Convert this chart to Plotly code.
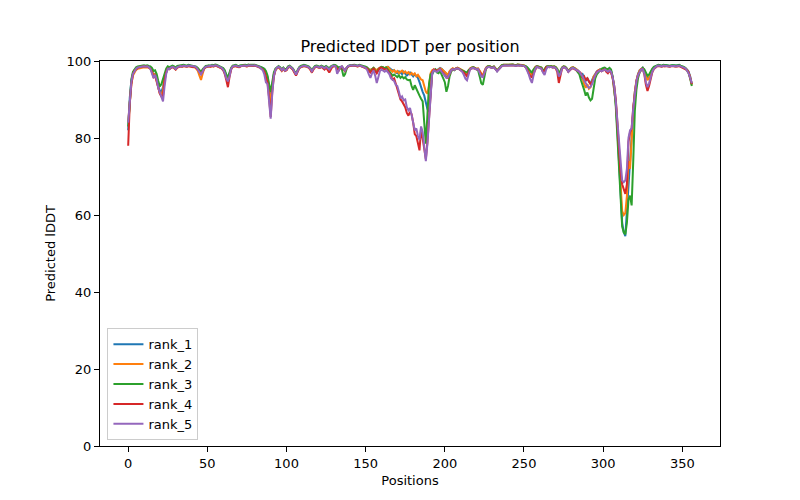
import plotly.graph_objects as go

positions = list(range(357))

rank_1 = [
82.0, 90.5, 94.8, 96.8, 97.6, 98.0, 98.3, 98.4, 98.5, 98.5,
98.6, 98.5, 98.6, 98.4, 98.2, 97.6, 96.0, 96.8, 95.5, 93.5,
92.3, 92.0, 93.2, 96.0, 97.4, 98.2, 98.0, 98.3, 98.5, 98.3,
97.9, 98.4, 98.6, 98.7, 98.6, 98.8, 98.7, 98.6, 98.8, 98.7,
98.6, 98.5, 98.6, 98.3, 97.9, 97.4, 96.6, 97.3, 98.2, 98.5,
98.6, 98.7, 98.6, 98.8, 98.7, 98.9, 98.8, 98.6, 98.5, 98.3,
98.0, 97.3, 96.0, 95.2, 96.6, 98.0, 98.6, 98.7, 98.8, 98.6,
98.5, 98.7, 98.8, 98.9, 98.8, 98.7, 98.9, 98.8, 98.7, 98.8,
98.9, 98.8, 98.6, 98.5, 98.3, 98.2, 97.9, 97.0, 95.8, 93.0,
89.5, 93.5, 96.5, 97.8, 98.3, 98.5, 98.2, 97.6, 98.1, 97.6,
97.8, 98.4, 98.6, 98.3, 97.9, 97.2, 96.4, 97.4, 98.2, 98.5,
98.7, 98.8, 98.7, 98.6, 98.4, 98.0, 97.4, 98.0, 98.5, 98.6,
98.5, 98.3, 98.6, 98.4, 98.2, 98.5, 98.3, 97.9, 98.4, 98.7,
98.8, 98.7, 98.4, 98.0, 98.5, 98.6, 98.0, 97.6, 98.3, 98.7,
98.8, 98.9, 98.8, 98.9, 98.8, 98.7, 98.9, 98.8, 98.6, 98.5,
98.4, 98.2, 97.8, 97.6, 97.9, 98.2, 97.8, 97.4, 97.9, 98.3,
98.4, 98.3, 98.0, 98.4, 98.5, 98.2, 97.8, 97.5, 97.6, 97.0,
96.8, 97.3, 97.0, 96.6, 97.2, 96.8, 96.2, 96.6, 97.0, 96.5,
96.0, 96.6, 96.2, 95.6, 94.5, 93.0, 92.0, 91.0, 89.0, 87.5,
86.8, 92.5, 96.5, 97.4, 97.8, 97.6, 97.9, 98.2, 98.0, 97.6,
97.2, 96.6, 96.2, 97.2, 97.8, 98.0, 97.8, 98.1, 98.2, 98.0,
97.8, 97.6, 97.2, 96.8, 96.4, 97.4, 98.0, 98.2, 98.3, 98.1,
97.9, 98.0, 97.4, 96.4, 95.8, 97.2, 98.2, 98.5, 98.6, 98.4,
98.3, 98.5, 98.0, 97.4, 97.9, 98.5, 98.8, 98.9, 99.0, 98.9,
98.9, 99.0, 98.9, 99.0, 98.9, 98.8, 99.0, 98.9, 99.0, 98.9,
98.8, 98.6, 98.3, 97.8, 96.8, 96.4, 97.4, 98.3, 98.6, 98.5,
98.3, 98.2, 97.3, 97.6, 98.4, 98.6, 98.5, 98.6, 98.4, 98.5,
98.3, 97.8, 96.4, 97.0, 98.2, 98.5, 98.4, 98.0, 97.3, 97.8,
98.2, 98.3, 98.1, 97.8, 97.6, 97.0, 96.2, 96.6, 95.4, 94.8,
95.6, 94.6, 94.2, 95.2, 96.0, 96.6, 97.3, 97.6, 97.8, 97.6,
97.9, 98.1, 97.8, 97.6, 97.9, 97.4, 95.8, 93.0, 89.0, 82.0,
73.0, 64.0, 58.0, 55.5, 54.5, 61.0, 68.0, 74.0, 80.0, 87.0,
92.0, 95.0, 96.6, 97.6, 98.0, 98.3, 97.6, 96.4, 95.2, 95.8,
97.0, 97.8, 98.3, 98.6, 98.8, 98.9, 98.8, 98.7, 98.9, 98.8,
98.9, 98.8, 98.7, 98.8, 98.9, 98.8, 98.7, 98.8, 98.9, 98.7,
98.6, 98.4, 98.2, 97.8, 97.2, 96.0, 94.0,
]

rank_2 = [
84.0, 90.0, 94.0, 96.2, 97.2, 97.7, 98.0, 98.1, 98.2, 98.3,
98.4, 98.3, 98.4, 98.2, 98.0, 97.4, 96.4, 96.6, 95.0, 93.0,
91.5, 91.0, 92.5, 95.6, 97.2, 98.0, 97.9, 98.2, 98.4, 98.2,
97.8, 98.3, 98.5, 98.6, 98.5, 98.7, 98.6, 98.5, 98.7, 98.6,
98.5, 98.4, 98.4, 98.0, 97.4, 96.2, 95.1, 96.6, 98.0, 98.4,
98.5, 98.6, 98.5, 98.7, 98.6, 98.8, 98.7, 98.5, 98.4, 98.2,
97.9, 97.0, 95.8, 95.0, 96.4, 97.9, 98.5, 98.6, 98.7, 98.5,
98.4, 98.6, 98.7, 98.8, 98.7, 98.6, 98.8, 98.7, 98.6, 98.7,
98.8, 98.7, 98.5, 98.4, 98.2, 98.0, 97.6, 96.6, 95.2, 92.5,
89.0, 93.0, 96.2, 97.6, 98.2, 98.4, 98.0, 97.4, 98.0, 97.5,
97.6, 98.3, 98.5, 98.2, 97.8, 97.0, 96.6, 97.3, 98.1, 98.4,
98.6, 98.7, 98.6, 98.5, 98.3, 97.8, 97.2, 97.9, 98.4, 98.5,
98.4, 98.2, 98.5, 98.3, 98.1, 98.4, 98.2, 97.8, 98.3, 98.6,
98.7, 98.6, 98.2, 97.8, 98.4, 98.5, 97.9, 97.5, 98.2, 98.6,
98.7, 98.8, 98.7, 98.8, 98.7, 98.6, 98.8, 98.7, 98.5, 98.4,
98.3, 98.1, 97.8, 97.7, 97.9, 98.2, 97.9, 97.6, 98.0, 98.3,
98.4, 98.3, 98.1, 98.4, 98.5, 98.0, 97.6, 97.2, 97.6, 97.0,
97.4, 96.8, 97.2, 97.5, 96.9, 97.3, 96.8, 97.1, 96.5, 96.9,
96.4, 96.8, 96.0, 96.4, 95.8, 95.2, 95.0, 93.5, 92.0, 91.5,
93.5, 96.8, 97.6, 97.8, 97.6, 97.4, 97.8, 98.1, 97.9, 97.5,
97.0, 96.8, 96.4, 97.4, 97.9, 98.1, 97.9, 98.2, 98.3, 98.1,
97.9, 97.7, 97.4, 97.0, 96.8, 97.5, 98.1, 98.3, 98.4, 98.2,
98.0, 98.1, 97.5, 96.6, 96.2, 97.4, 98.3, 98.6, 98.7, 98.5,
98.4, 98.6, 98.1, 97.6, 98.0, 98.6, 98.9, 99.0, 99.1, 99.0,
99.0, 99.1, 99.0, 99.1, 99.0, 98.9, 99.1, 99.0, 99.1, 99.0,
98.9, 98.5, 98.0, 97.2, 96.5, 96.8, 97.6, 98.4, 98.7, 98.6,
98.4, 98.3, 97.5, 97.8, 98.5, 98.7, 98.6, 98.7, 98.5, 98.6,
98.4, 97.9, 96.8, 97.2, 98.3, 98.6, 98.5, 98.1, 97.5, 97.9,
98.3, 98.4, 98.2, 97.9, 97.5, 96.8, 96.0, 95.5, 94.0, 93.0,
94.0, 92.8, 93.2, 94.5, 96.0, 96.5, 97.2, 97.6, 97.8, 97.6,
97.9, 98.0, 97.7, 97.5, 97.8, 97.2, 95.6, 92.8, 89.0, 83.0,
75.0, 67.0, 61.0, 60.0, 60.5, 65.0, 74.0, 72.0, 80.0, 87.0,
92.0, 95.0, 96.5, 97.5, 97.9, 98.2, 97.5, 96.2, 95.0, 95.6,
96.8, 97.7, 98.2, 98.5, 98.7, 98.8, 98.7, 98.6, 98.8, 98.7,
98.8, 98.7, 98.6, 98.7, 98.8, 98.7, 98.6, 98.7, 98.8, 98.6,
98.5, 98.3, 98.1, 97.7, 97.0, 95.8, 93.8,
]

rank_3 = [
83.0, 91.0, 95.2, 97.2, 98.0, 98.4, 98.6, 98.7, 98.8, 98.8,
98.9, 98.8, 98.9, 98.7, 98.6, 98.2, 97.4, 97.6, 96.6, 94.8,
93.4, 94.0, 95.2, 97.0, 98.0, 98.6, 98.4, 98.6, 98.8, 98.6,
98.3, 98.7, 98.8, 98.9, 98.8, 99.0, 98.9, 98.8, 99.0, 98.9,
98.8, 98.7, 98.8, 98.5, 98.2, 97.8, 97.2, 97.8, 98.4, 98.7,
98.8, 98.9, 98.8, 99.0, 98.9, 99.1, 99.0, 98.8, 98.7, 98.5,
98.2, 97.6, 96.4, 95.8, 97.0, 98.2, 98.8, 98.9, 99.0, 98.8,
98.7, 98.9, 99.0, 99.1, 99.0, 98.9, 99.1, 99.0, 98.9, 99.0,
99.0, 98.9, 98.8, 98.6, 98.4, 98.3, 98.0, 97.4, 96.2, 94.0,
92.0, 94.5, 97.0, 98.0, 98.5, 98.7, 98.4, 97.8, 98.3, 97.8,
98.0, 98.6, 98.8, 98.5, 98.1, 97.4, 96.8, 97.6, 98.4, 98.7,
98.9, 99.0, 98.9, 98.8, 98.6, 98.2, 97.6, 98.2, 98.7, 98.8,
98.7, 98.5, 98.8, 98.6, 98.4, 98.7, 98.5, 98.1, 98.6, 98.9,
99.0, 98.9, 98.6, 98.3, 98.4, 97.8, 96.0, 96.6, 98.0, 98.7,
98.9, 99.0, 98.9, 99.0, 98.9, 98.8, 99.0, 98.9, 98.7, 98.6,
98.5, 98.3, 97.6, 97.2, 97.8, 98.2, 97.4, 97.0, 97.8, 98.3,
98.5, 98.4, 98.1, 98.3, 97.8, 97.5, 96.8, 96.2, 96.5, 96.0,
95.8, 96.3, 95.6, 96.0, 95.5, 95.8, 95.2, 95.0, 95.1, 93.5,
92.5, 93.7, 92.8, 91.5, 91.0, 90.2, 89.5, 84.0, 78.5, 86.0,
94.0, 96.5, 97.0, 97.6, 97.8, 97.0, 96.8, 97.4, 96.6, 95.5,
94.5, 92.0, 93.5, 96.0, 97.2, 97.8, 97.6, 98.0, 98.1, 97.9,
97.7, 97.5, 97.3, 97.2, 97.0, 97.6, 98.1, 98.3, 98.4, 98.2,
98.0, 97.6, 96.0, 94.2, 93.8, 96.0, 98.0, 98.6, 98.7, 98.5,
98.4, 98.6, 98.1, 97.5, 98.0, 98.6, 98.9, 99.0, 99.1, 99.0,
99.0, 99.1, 99.0, 99.1, 99.0, 98.9, 99.1, 99.0, 99.1, 99.0,
98.9, 98.7, 98.4, 98.0, 97.6, 97.0, 97.8, 98.4, 98.7, 98.6,
98.4, 98.3, 97.6, 97.8, 98.5, 98.7, 98.6, 98.7, 98.5, 98.6,
98.4, 97.9, 97.0, 97.4, 98.3, 98.6, 98.5, 98.1, 97.4, 97.8,
98.2, 98.3, 98.1, 97.6, 97.0, 96.5, 95.0, 94.0, 92.5, 91.0,
91.8, 90.5, 89.8, 90.2, 92.5, 95.5, 96.5, 97.0, 97.8, 98.0,
98.2, 98.3, 98.0, 97.9, 98.2, 97.8, 96.0, 93.0, 88.0, 81.0,
74.0, 66.0, 57.0, 55.5, 55.0, 58.0, 64.0, 65.0, 62.5, 74.0,
87.0, 92.5, 95.5, 97.0, 97.8, 98.2, 97.8, 97.0, 96.2, 96.5,
97.4, 98.0, 98.5, 98.7, 98.9, 99.0, 98.9, 98.8, 99.0, 98.9,
99.0, 98.9, 98.8, 98.9, 99.0, 98.9, 98.8, 98.9, 99.0, 98.8,
98.7, 98.5, 98.2, 97.6, 96.8, 95.4, 93.5,
]

rank_4 = [
78.0, 89.0, 94.0, 96.5, 97.5, 98.0, 98.2, 98.4, 98.5, 98.5,
98.6, 98.5, 98.6, 98.3, 98.0, 97.2, 95.8, 96.2, 94.8, 92.8,
91.5, 90.8, 91.0, 95.0, 97.0, 98.0, 97.9, 98.2, 98.4, 98.2,
97.8, 98.3, 98.5, 98.6, 98.5, 98.7, 98.6, 98.5, 98.7, 98.6,
98.5, 98.4, 98.5, 98.2, 97.8, 97.2, 96.6, 97.2, 98.1, 98.4,
98.5, 98.6, 98.5, 98.7, 98.6, 98.8, 98.7, 98.5, 98.4, 98.1,
97.6, 96.6, 95.0, 93.2, 95.8, 97.8, 98.5, 98.6, 98.7, 98.5,
98.4, 98.6, 98.7, 98.8, 98.7, 98.6, 98.8, 98.7, 98.6, 98.7,
98.8, 98.7, 98.5, 98.3, 98.0, 97.8, 97.2, 96.0, 94.5, 90.5,
85.5, 92.0, 96.0, 97.6, 98.2, 98.4, 98.1, 97.5, 98.0, 97.4,
97.6, 98.3, 98.5, 98.2, 97.8, 97.0, 96.2, 97.2, 98.1, 98.4,
98.6, 98.7, 98.6, 98.5, 98.3, 97.8, 97.0, 97.8, 98.4, 98.5,
98.4, 98.2, 98.5, 98.2, 97.8, 98.3, 97.6, 97.0, 97.8, 98.5,
98.7, 98.6, 98.0, 97.5, 98.2, 98.5, 97.9, 97.4, 98.2, 98.6,
98.7, 98.8, 98.7, 98.8, 98.7, 98.6, 98.8, 98.7, 98.5, 98.3,
98.2, 98.0, 97.4, 97.0, 97.6, 98.0, 97.4, 96.8, 97.6, 98.2,
98.3, 98.0, 97.8, 97.9, 97.5, 96.8, 96.0, 95.2, 95.5, 94.0,
92.5, 91.5, 90.0, 89.5, 88.8, 88.0, 86.5, 85.8, 86.8, 86.2,
84.0, 81.0, 80.5, 78.5, 76.8, 82.5, 80.0, 76.5, 74.5, 79.0,
85.0, 93.0, 97.0, 97.8, 97.6, 97.4, 97.6, 97.9, 97.4, 96.8,
96.2, 95.8, 95.6, 96.8, 97.6, 97.9, 97.7, 98.0, 98.1, 97.9,
97.6, 97.4, 97.0, 96.5, 96.0, 97.0, 97.9, 98.1, 98.2, 98.0,
97.8, 97.9, 97.2, 96.2, 95.8, 97.0, 98.1, 98.4, 98.5, 98.3,
98.2, 98.4, 97.9, 97.4, 97.8, 98.4, 98.7, 98.8, 98.9, 98.8,
98.8, 98.9, 98.8, 98.9, 98.8, 98.7, 98.9, 98.8, 98.9, 98.8,
98.7, 98.4, 97.8, 96.8, 96.0, 95.8, 96.8, 98.0, 98.5, 98.4,
98.2, 98.0, 97.2, 97.5, 98.3, 98.5, 98.4, 98.5, 98.3, 98.4,
98.1, 97.2, 94.3, 96.0, 98.0, 98.4, 98.3, 97.9, 97.2, 97.6,
98.0, 98.1, 97.9, 97.6, 97.4, 97.2, 96.8, 95.5, 96.0, 95.0,
95.5, 94.8, 94.0, 94.5, 95.5, 96.5, 97.2, 97.5, 97.6, 97.3,
97.6, 97.8, 97.2, 96.8, 97.4, 97.0, 95.6, 93.5, 90.0, 84.0,
77.0, 71.0, 68.0, 67.0, 65.5, 68.0, 79.0, 81.5, 82.5, 88.0,
92.0, 94.8, 96.3, 97.3, 97.8, 97.9, 96.5, 93.8, 92.2, 93.5,
95.5, 97.0, 97.9, 98.4, 98.6, 98.7, 98.6, 98.5, 98.7, 98.6,
98.7, 98.6, 98.5, 98.6, 98.7, 98.6, 98.5, 98.6, 98.7, 98.5,
98.4, 98.2, 98.0, 97.6, 97.0, 95.8, 94.0,
]

rank_5 = [
84.0, 90.5, 94.5, 96.6, 97.5, 98.0, 98.3, 98.4, 98.5, 98.5,
98.6, 98.5, 98.6, 98.4, 98.0, 96.8, 95.6, 96.4, 95.2, 93.0,
91.8, 90.5, 89.5, 93.5, 96.6, 98.0, 97.9, 98.3, 98.5, 98.3,
97.9, 98.4, 98.6, 98.7, 98.6, 98.8, 98.7, 98.6, 98.8, 98.7,
98.6, 98.5, 98.6, 98.3, 97.8, 97.2, 96.5, 97.2, 98.2, 98.5,
98.6, 98.7, 98.6, 98.8, 98.7, 98.9, 98.8, 98.6, 98.5, 98.2,
97.8, 96.9, 95.5, 94.7, 96.0, 97.9, 98.6, 98.7, 98.8, 98.6,
98.5, 98.7, 98.8, 98.9, 98.8, 98.7, 98.9, 98.8, 98.7, 98.8,
98.9, 98.8, 98.6, 98.4, 98.0, 97.6, 96.5, 94.5, 94.0, 90.0,
85.0, 91.5, 96.0, 97.7, 98.3, 98.5, 98.2, 97.6, 98.1, 97.5,
97.7, 98.4, 98.6, 98.3, 97.9, 97.2, 96.5, 97.4, 98.2, 98.5,
98.7, 98.8, 98.7, 98.6, 98.4, 98.0, 97.3, 98.0, 98.5, 98.6,
98.5, 98.3, 98.6, 98.4, 98.1, 98.5, 98.2, 97.8, 98.3, 98.7,
98.8, 98.6, 96.7, 97.4, 98.4, 98.6, 98.0, 97.5, 98.3, 98.7,
98.8, 98.9, 98.8, 98.9, 98.8, 98.7, 98.9, 98.8, 98.6, 98.4,
98.2, 97.6, 96.5, 95.6, 96.8, 97.5, 96.2, 94.3, 95.8, 97.4,
97.8, 97.5, 97.2, 97.6, 97.2, 96.6, 95.5, 95.0, 94.8, 93.8,
93.5, 92.0, 90.3, 90.8, 89.8, 90.0, 88.0, 87.2, 87.8, 86.0,
84.0, 82.0, 82.5, 80.5, 79.5, 83.0, 81.5, 77.0, 74.0, 78.5,
84.5, 92.5, 96.8, 97.6, 97.4, 97.2, 97.5, 97.8, 97.2, 96.6,
96.0, 95.6, 95.8, 96.8, 97.6, 97.9, 97.7, 98.0, 98.1, 97.9,
97.6, 97.2, 96.4, 95.4, 95.0, 96.6, 97.9, 98.1, 98.2, 98.0,
97.8, 97.9, 97.0, 96.0, 95.8, 97.0, 98.1, 98.4, 98.5, 98.3,
98.2, 98.4, 97.9, 97.3, 97.8, 98.4, 98.7, 98.8, 98.9, 98.8,
98.8, 98.9, 98.8, 98.9, 98.8, 98.7, 98.9, 98.8, 98.9, 98.8,
98.7, 98.4, 97.6, 96.5, 95.2, 94.3, 96.2, 97.8, 98.5, 98.4,
98.2, 98.0, 97.0, 96.4, 97.8, 98.5, 98.4, 98.5, 98.3, 98.4,
98.2, 97.6, 96.0, 96.6, 98.1, 98.4, 98.3, 97.9, 97.2, 97.7,
98.1, 98.2, 98.0, 97.7, 97.4, 97.2, 96.5, 96.0, 95.0, 94.0,
93.5, 93.0, 93.3, 94.0, 95.5, 96.3, 97.0, 97.4, 97.6, 97.3,
97.6, 97.8, 97.5, 97.2, 97.6, 97.2, 95.8, 93.5, 89.5, 84.0,
78.0, 72.0, 69.0, 68.5, 69.0, 72.0, 80.0, 82.0, 82.5, 87.5,
92.0, 94.8, 96.3, 97.3, 97.8, 97.9, 96.8, 94.5, 93.2, 94.2,
95.8, 97.2, 98.0, 98.5, 98.7, 98.8, 98.7, 98.6, 98.8, 98.7,
98.8, 98.7, 98.6, 98.7, 98.8, 98.7, 98.6, 98.7, 98.8, 98.6,
98.5, 98.3, 98.1, 97.6, 96.8, 95.6, 94.2,
]

series_names = ["rank_1", "rank_2", "rank_3", "rank_4", "rank_5"]
series_values = [rank_1, rank_2, rank_3, rank_4, rank_5]
colors = ["#1f77b4", "#ff7f0e", "#2ca02c", "#d62728", "#9467bd"]
x_ticks = [0, 50, 100, 150, 200, 250, 300, 350]
y_ticks = [0, 20, 40, 60, 80, 100]

fig = go.Figure()
for name, vals, col in zip(series_names, series_values, colors):
    fig.add_trace(go.Scatter(x=positions[:len(vals)], y=vals, mode="lines", name=name,
                             line=dict(color=col, width=2)))

font = "DejaVu Sans"
axis_common = dict(showline=True, linecolor="black", linewidth=1, mirror=True,
                   ticks="outside", ticklen=5, tickcolor="black", tickwidth=1,
                   showgrid=False, zeroline=False,
                   tickfont=dict(family=font, size=13, color="black"))

n = len(positions) - 1
fig.update_layout(
    width=800, height=500,
    paper_bgcolor="white", plot_bgcolor="white",
    margin=dict(l=92, r=88, t=53, b=62),
    title=dict(text="Predicted lDDT per position", x=(92 + 310) / 800, xanchor="center",
               y=1 - 38 / 500, yanchor="middle", yref="container",
               font=dict(family=font, size=16, color="black")),
    xaxis=dict(range=[-0.05 * n, n * 1.05], tickvals=x_ticks,
               title=dict(text="Positions", font=dict(family=font, size=13, color="black"), standoff=6),
               **axis_common),
    yaxis=dict(range=[0, 100], tickvals=y_ticks,
               title=dict(text="Predicted lDDT", font=dict(family=font, size=13, color="black"), standoff=8),
               **axis_common),
    legend=dict(x=0.012, y=0.015, xanchor="left", yanchor="bottom",
                bgcolor="rgba(255,255,255,0.8)", bordercolor="#cccccc", borderwidth=1,
                font=dict(family=font, size=13, color="black"), tracegroupgap=0),
    showlegend=True,
)

fig.write_html("out.html")
